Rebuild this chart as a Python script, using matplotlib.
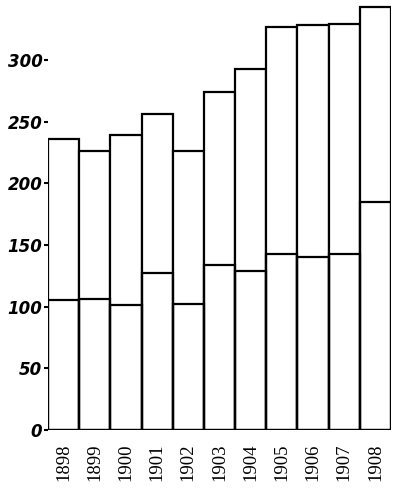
import numpy as np
import matplotlib.pyplot as plt

# datos
anios = ["1898", "1899", "1900", "1901", "1902", "1903",
         "1904", "1905", "1906", "1907", "1908"]
totales = [236, 226, 239, 256, 226, 274, 293, 327, 328, 329, 343]
parte_baja = [105, 106, 101, 127, 102, 134, 129, 143, 140, 143, 185]
ticks_y = [0, 50, 100, 150, 200, 250, 300]

fig = plt.figure(figsize=(4, 4.92), dpi=100)
ax = fig.add_axes([0.12, 0.126, 0.8575, 0.865])

x = np.arange(len(anios))
# barra completa y la linea interna
ax.bar(x, totales, width=1.0, facecolor="white", edgecolor="black", lw=1.6)
ax.bar(x, parte_baja, width=1.0, facecolor="none", edgecolor="black", lw=1.6)

ax.set_xlim(-0.5, len(anios) - 0.5)
ax.set_ylim(0, 345)

for s in ax.spines.values():
    s.set_visible(False)

ax.set_yticks(ticks_y)
ax.set_yticklabels([str(t) for t in ticks_y], fontsize=12, fontweight="bold",
                   fontstyle="italic", family="DejaVu Sans")
ax.tick_params(axis="y", length=3, width=1.5, pad=1)

ax.set_xticks(x)
ax.set_xticklabels(anios, rotation=90, fontsize=13.5, family="Liberation Serif")
ax.tick_params(axis="x", length=0, pad=10)

fig.savefig("out.png", dpi=100)
